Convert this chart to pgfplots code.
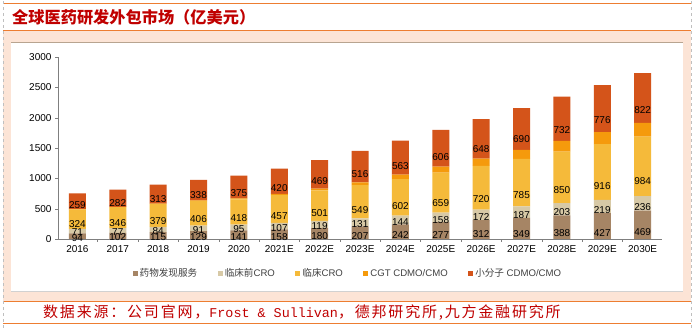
\documentclass[border=0pt]{standalone}
\usepackage{pgfplots}
\pgfplotsset{compat=1.18}
\usepackage{pgfplotstable}
\usepackage{fontspec}
\setmainfont{Liberation Sans}
\newfontfamily\cjk{Noto Sans CJK SC}
\newfontfamily\cjkwide[LetterSpace=12]{Noto Sans CJK SC}
\newfontfamily\mono{Liberation Mono}
\definecolor{cBrown}{HTML}{A68565}
\definecolor{cBeige}{HTML}{D7C9A6}
\definecolor{cYellow}{HTML}{F5BA3A}
\definecolor{cOrange}{HTML}{F59A0C}
\definecolor{cRed}{HTML}{D4541A}
\definecolor{frameOrange}{HTML}{ED7D31}
\definecolor{peach}{HTML}{FCE4D6}
\definecolor{titleRed}{HTML}{C00000}
\definecolor{brownLine}{HTML}{B8A490}
\definecolor{axisGray}{HTML}{7F7F7F}

\pgfplotstableread{
x a b c d e
0 94 71 324 4 259
1 102 77 346 5 282
2 115 84 379 7 313
3 129 91 406 10 338
4 141 95 418 14 375
5 158 107 457 20 420
6 180 119 501 31 469
7 207 131 549 48 516
8 242 144 602 72 563
9 277 158 659 97 606
10 312 172 720 122 648
11 349 187 785 148 690
12 388 203 850 175 732
13 427 219 916 200 776
14 469 236 984 225 822
}\data

\pgfplotsset{
  seglabel/.style={
    nodes near coords,
    visualization depends on={rawy \as \segv},
    every node near coord/.style={anchor=center, inner sep=0pt,
      yshift=-\segv*0.01516667pt, font=\fontsize{10}{12}\selectfont, text=black},
  }
}

\begin{document}
\begin{tikzpicture}
\path[use as bounding box] (0pt,0pt) rectangle (696pt,328pt);
\fill[white] (0pt,0pt) rectangle (696pt,328pt);
\fill[peach] (3pt,26pt) rectangle (691pt,297pt);
\fill[white] (11pt,36pt) rectangle (683pt,286pt);
\draw[brownLine, line width=1.2pt] (11pt,285.6pt) -- (683pt,285.6pt);
\draw[black!18, line width=1.2pt] (11pt,36.4pt) -- (683pt,36.4pt);
\draw[frameOrange, line width=1pt] (3pt,324pt) -- (691pt,324pt);
\draw[frameOrange, line width=1pt] (3pt,297pt) -- (691pt,297pt);
\draw[frameOrange, line width=1pt] (3pt,26pt) -- (691pt,26pt);
\draw[frameOrange, line width=1pt] (3pt,4pt) -- (691pt,4pt);
\draw[black!25, dashed, line width=0.8pt] (3pt,0pt) -- (3pt,328pt);
\draw[black!25, dashed, line width=0.8pt] (691pt,0pt) -- (691pt,328pt);

\node[anchor=west, inner sep=0pt, text=titleRed, font=\cjk\bfseries\fontsize{16.2}{18}\selectfont] at (12pt,311pt) {全球医药研发外包市场（亿美元）};

\node[anchor=west, inner sep=0pt, text=titleRed, font=\fontsize{15}{17}\selectfont] at (43pt,15pt) {\cjkwide 数据来源：公司官网，{\mono\fontsize{13.4}{16}\selectfont Frost \& Sullivan}，德邦研究所,九方金融研究所};

\begin{axis}[
  at={(58pt,89pt)}, anchor=south west,
  scale only axis, width=604pt, height=182pt,
  ybar stacked, bar width=17pt,
  xmin=-0.48, xmax=14.48, ymin=0, ymax=3000,
  axis x line*=bottom, axis y line*=left,
  axis line style={axisGray, -},
  tick align=outside,
  major tick length=3pt, minor tick length=3pt,
  ytick={0,500,...,3000},
  xtick={0,...,14},
  minor xtick={0.5,1.5,...,13.5},
  major x tick style={draw=none},
  tick style={axisGray},
  xticklabels={2016,2017,2018,2019,2020,2021E,2022E,2023E,2024E,2025E,2026E,2027E,2028E,2029E,2030E},
  ticklabel style={font=\fontsize{10}{12}\selectfont, text=black},
  /pgf/number format/assume math mode=true,
  /pgf/number format/1000 sep={},
  legend style={draw=none, fill=none, at={(0.48,-0.19)}, anchor=center,
    font=\fontsize{9.6}{11}\selectfont, text=black!75,
    /tikz/every even column/.append style={column sep=18.5pt}},
  legend columns=-1,
  legend image code/.code={\fill[#1] (0pt,-2.5pt) rectangle (5pt,2.5pt);},
]
\addplot[fill=cBrown, draw=none, seglabel] table[x=x,y=a]{\data};
\addlegendentry{{\cjk 药物发现服务}}
\addplot[fill=cBeige, draw=none, seglabel] table[x=x,y=b]{\data};
\addlegendentry{{\cjk 临床前}CRO}
\addplot[fill=cYellow, draw=none, seglabel] table[x=x,y=c]{\data};
\addlegendentry{{\cjk 临床}CRO}
\addplot[fill=cOrange, draw=none] table[x=x,y=d]{\data};
\addlegendentry{CGT CDMO/CMO}
\addplot[fill=cRed, draw=none, seglabel] table[x=x,y=e]{\data};
\addlegendentry{{\cjk 小分子} CDMO/CMO}
\end{axis}
\end{tikzpicture}
\end{document}
